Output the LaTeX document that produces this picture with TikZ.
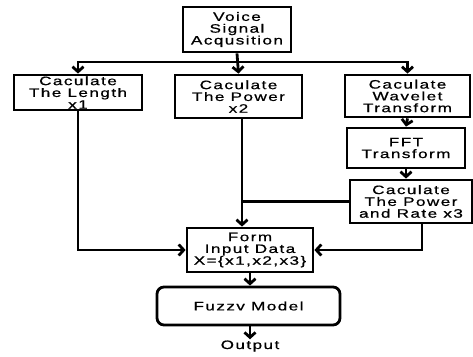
\documentclass[tikz,border=0pt]{standalone}
\usepackage{fontspec}
\setmainfont{Liberation Sans}[FakeStretch=1.4,LetterSpace=12,FakeBold=0.8]
\usetikzlibrary{arrows.meta}
\begin{document}
\begin{tikzpicture}[x=1pt,y=-1pt,
  box/.style={draw,line width=2.8pt,align=center,inner sep=0pt,font=\fontsize{12.2}{11.8}\selectfont},
  arr/.style={line width=2.8pt,-{Straight Barb[length=5pt,width=11pt]}},
  ln/.style={line width=2.8pt}]
\useasboundingbox (0,0) rectangle (473,356);
\node[box,minimum width=108pt,minimum height=45pt] (voice) at (237,29.5) {Voice\\Signal\\Acqusition};
\node[box,minimum width=128pt,minimum height=35pt] (len) at (78,92.5) {Caculate\\The Length\\x1};
\node[box,minimum width=127pt,minimum height=43pt] (pow) at (238.5,96.5) {Caculate\\The Power\\x2};
\node[box,minimum width=125pt,minimum height=42pt] (wave) at (407.5,96) {Caculate\\Wavelet\\Transform};
\node[box,minimum width=118pt,minimum height=40pt] (fft) at (406,148) {FFT\\Transform};
\node[box,minimum width=122pt,minimum height=43pt] (pr) at (411,201.5) {Caculate\\The Power\\and Rate x3};
\node[box,minimum width=126pt,minimum height=44pt] (form) at (250,250) {Form\\Input Data\\X=\{x1,x2,x3\}};
\node[box,rounded corners=7pt,minimum width=183pt,minimum height=38pt] (fuzzy) at (248.5,306) {Fuzzv Model};
\node[font=\fontsize{12.2}{11.8}\selectfont,inner sep=1pt] (out) at (250,346) {Output};
\coordinate (j1) at (237,62);
\coordinate (p1) at (242,118);
\coordinate (p2) at (422,223);
\draw[arr] (voice.south) -- (pow.north);
\draw[arr] (j1) -| (len.north);
\draw[arr] (j1) -| (wave.north);
\draw[arr] (len.south) |- (form.west);
\draw[arr] (p1) -- (p1 |- form.north);
\draw[ln] (pr.west) -- (pr.west -| p1);
\draw[arr] (p2) |- (form.east);
\draw[arr] (wave.south) -- (fft.north);
\draw[arr] (fft.south) -- (fft.south |- pr.north);
\draw[arr] (form.south) -- (form.south |- fuzzy.north);
\draw[arr] (fuzzy.south -| out) -- (out.north);
\end{tikzpicture}
\end{document}
